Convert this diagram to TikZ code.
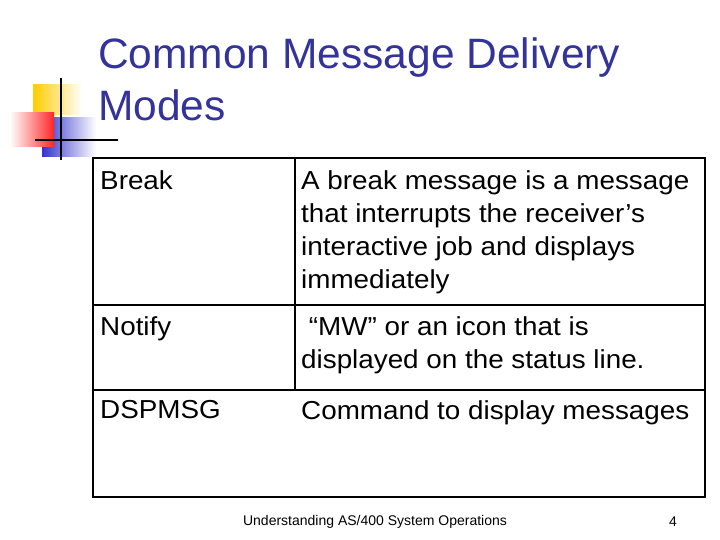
\documentclass[tikz,border=0pt]{standalone}
\usepackage{fontspec}
\setmainfont{Liberation Sans}
\newfontfamily\cellfont[FakeStretch=1.07]{Liberation Sans}
\definecolor{titleblue}{RGB}{51,51,153}
\definecolor{ly}{RGB}{255,204,0}
\definecolor{lb}{RGB}{51,51,204}
\begin{document}
\begin{tikzpicture}[x=1pt,y=-1pt,
  cell/.style={anchor=north west,align=left,inner sep=0pt,font=\cellfont\fontsize{26}{33}\selectfont},
  grid/.style={draw=black,line width=1.2pt}]
\useasboundingbox (0,0) rectangle (720,540);
% logo
\shade[left color=ly,right color=white] (33,85) rectangle (82,115);
\shade[left color=lb,right color=white] (42,118) rectangle (96,157);
\shade[left color=white,right color=red!85] (10,113) rectangle (54,147);
\draw[line width=1.6pt] (61,78) -- (61,160);
\draw[line width=1.6pt] (35,140) -- (118,140);
% title
\node[anchor=north west,align=left,inner sep=0pt,text=titleblue,font=\fontsize{42.5}{52}\selectfont] (title) at (98,38) {Common Message Delivery\\Modes};
% table
\draw[grid] (93,158) rectangle (705,497);
\draw[grid] (93,305) -- (705,305);
\draw[grid] (93,390) -- (705,390);
\draw[grid] (295,158) -- (295,390);
\node[cell] (b1) at (100,170) {Break};
\node[cell] (b2) at (301,170) {A break message is a message\\that interrupts the receiver’s\\interactive job and displays\\immediately};
\node[cell] (n1) at (100,316) {Notify};
\node[cell] (n2) at (301,316) {\ “MW” or an icon that is\\displayed on the status line.};
\node[cell] (d1) at (100,400) {DSPMSG};
\node[cell] (d2) at (301,400) {Command to display messages};
% footer
\node[font=\fontsize{14}{16}\selectfont] (foot) at (375,522) {Understanding AS/400 System Operations};
\node[font=\fontsize{14}{16}\selectfont] (pg) at (673,522) {4};
\end{tikzpicture}
\end{document}
